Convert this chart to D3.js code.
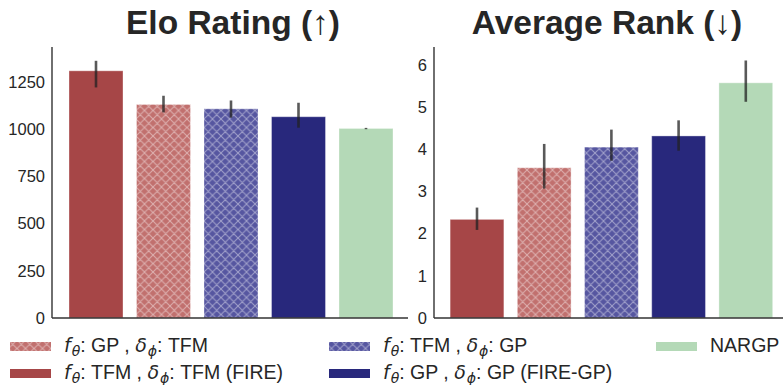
<!DOCTYPE html>
<html>
<head>
<meta charset="utf-8">
<script src="https://cdn.jsdelivr.net/npm/d3@7"></script>
<style>
  html, body { margin: 0; padding: 0; background: #fff; }
  svg { display: block; font-family: "Liberation Sans", Arial, Helvetica, sans-serif; }
</style>
</head>
<body>
<svg id="chart" width="783" height="385"></svg>
<script>
// ---- data ----
const categories = ["FIRE", "GP-TFM", "TFM-GP", "FIRE-GP", "NARGP"];
const eloValues = [1308, 1130, 1107, 1065, 1003];
const eloLow    = [1220, 1088, 1060, 1007, 999];
const eloHigh   = [1361, 1176, 1151, 1139, 1006];
const rankValues = [2.34, 3.565, 4.055, 4.32, 5.58];
const rankLow    = [2.09, 3.07, 3.73, 3.97, 5.13];
const rankHigh   = [2.62, 4.13, 4.47, 4.69, 6.11];
const eloTicks  = [0, 250, 500, 750, 1000, 1250];
const rankTicks = [0, 1, 2, 3, 4, 5, 6];
const titles = ["Elo Rating (\u2191)", "Average Rank (\u2193)"];
// legend (matplotlib column-major order)
const legendCats = ["GP-TFM", "FIRE", "TFM-GP", "FIRE-GP", "NARGP"];
const legendF     = ["GP", "TFM", "TFM", "GP", null];
const legendD     = ["TFM", "TFM", "GP", "GP", null];
const legendTail  = ["", " (FIRE)", "", " (FIRE-GP)", "NARGP"];

// ---- styles ----
const fillColor = {"FIRE": "#a64647", "GP-TFM": "#c1706e", "TFM-GP": "#5656a0", "FIRE-GP": "#28287c", "NARGP": "#b4d9b7"};
const hatched = {"FIRE": false, "GP-TFM": true, "TFM-GP": true, "FIRE-GP": false, "NARGP": false};

const svg = d3.select("#chart");
const defs = svg.append("defs");
categories.forEach(c => {
  if (!hatched[c]) return;
  const p = defs.append("pattern").attr("id", "hatch-" + c)
    .attr("patternUnits", "userSpaceOnUse").attr("width", 8.5).attr("height", 8.5);
  p.append("rect").attr("width", 8.5).attr("height", 8.5).attr("fill", fillColor[c]);
  p.append("path").attr("d", "M0,0L8.5,8.5M0,8.5L8.5,0M-1,1L1,-1M7.5,9.5L9.5,7.5M-1,7.5L1,9.5M7.5,-1L9.5,1")
    .attr("stroke", "#ffffff").attr("stroke-opacity", 0.45).attr("stroke-width", 1);
});
const fillOf = c => hatched[c] ? `url(#hatch-${c})` : fillColor[c];

const panels = [
  {values: eloValues, low: eloLow, high: eloHigh, ticks: eloTicks, ymax: 1434,
   axisX0: 52, axisX1: 408, bandX0: 62.25, bandX1: 399.75, title: titles[0], tcx: 233},
  {values: rankValues, low: rankLow, high: rankHigh, ticks: rankTicks, ymax: 6.43,
   axisX0: 434, axisX1: 783, bandX0: 443.4, bandX1: 779.4, title: titles[1], tcx: 607}
];
const yBottom = 318, yTop = 47;

panels.forEach(p => {
  const x = d3.scaleBand().domain(categories).range([p.bandX0, p.bandX1])
    .paddingInner(0.2).paddingOuter(0.1);
  const y = d3.scaleLinear().domain([0, p.ymax]).range([yBottom, yTop]);
  const g = svg.append("g");

  // bars
  g.selectAll("rect.bar").data(categories).join("rect").attr("class", "bar")
    .attr("x", c => x(c)).attr("width", x.bandwidth())
    .attr("y", (c, i) => y(p.values[i])).attr("height", (c, i) => y(0) - y(p.values[i]))
    .attr("fill", c => fillOf(c))
    .attr("stroke", "#ffffff").attr("stroke-opacity", 0.35).attr("stroke-width", 1);

  // error bars
  g.selectAll("line.err").data(categories).join("line").attr("class", "err")
    .attr("x1", c => x(c) + x.bandwidth() / 2).attr("x2", c => x(c) + x.bandwidth() / 2)
    .attr("y1", (c, i) => y(p.low[i])).attr("y2", (c, i) => y(p.high[i]))
    .attr("stroke", "#222").attr("stroke-opacity", 0.75).attr("stroke-width", 2.6);

  // y axis
  const ya = d3.axisLeft(y).tickValues(p.ticks).tickSize(0).tickPadding(7).tickFormat(d3.format("d"));
  const yg = g.append("g").attr("transform", `translate(${p.axisX0},0)`).call(ya);
  yg.select(".domain").remove();
  yg.selectAll("text").attr("font-size", 16.5).attr("fill", "#262626")
    .attr("font-family", "'Liberation Sans', Arial, sans-serif");

  // spines
  g.append("line").attr("x1", p.axisX0).attr("x2", p.axisX0).attr("y1", yTop).attr("y2", yBottom)
    .attr("stroke", "#333").attr("stroke-width", 1.4);
  g.append("line").attr("x1", p.axisX0).attr("x2", p.axisX1).attr("y1", yBottom).attr("y2", yBottom)
    .attr("stroke", "#333").attr("stroke-width", 1.4);

  // title
  svg.append("text").attr("x", p.tcx).attr("y", 34).attr("text-anchor", "middle")
    .attr("font-size", 33.5).attr("font-weight", "bold").attr("fill", "#262626").text(p.title);
});

// ---- legend ----
const colX = [10, 329, 656];
const rowY = [342, 369];
const patchW = 41, patchH = 9;
const mathFont = "'DejaVu Sans', sans-serif";
legendCats.forEach((c, i) => {
  const col = Math.floor(i / 2), row = i % 2;
  const px = colX[col], py = rowY[row];
  svg.append("rect").attr("x", px).attr("y", py).attr("width", patchW).attr("height", patchH)
    .attr("fill", fillOf(c));
  const t = svg.append("text").attr("x", px + patchW + 13).attr("y", py + 10)
    .attr("font-size", 19.5).attr("fill", "#262626");
  if (legendF[i] === null) {
    t.text(legendTail[i]);
    return;
  }
  t.append("tspan").attr("font-family", mathFont).attr("font-style", "italic").attr("font-size", 19).text("f");
  t.append("tspan").attr("font-family", mathFont).attr("font-style", "italic").attr("font-size", 14).attr("dy", 4).attr("dx", 1).text("\u03B8");
  t.append("tspan").attr("dy", -4).text(": " + legendF[i] + " , ");
  t.append("tspan").attr("font-family", mathFont).attr("font-style", "italic").attr("font-size", 19).text("\u03B4");
  t.append("tspan").attr("font-family", mathFont).attr("font-style", "italic").attr("font-size", 14).attr("dy", 4).attr("dx", 1).text("\u03D5");
  t.append("tspan").attr("dy", -4).text(": " + legendD[i] + legendTail[i]);
});
</script>
</body>
</html>
